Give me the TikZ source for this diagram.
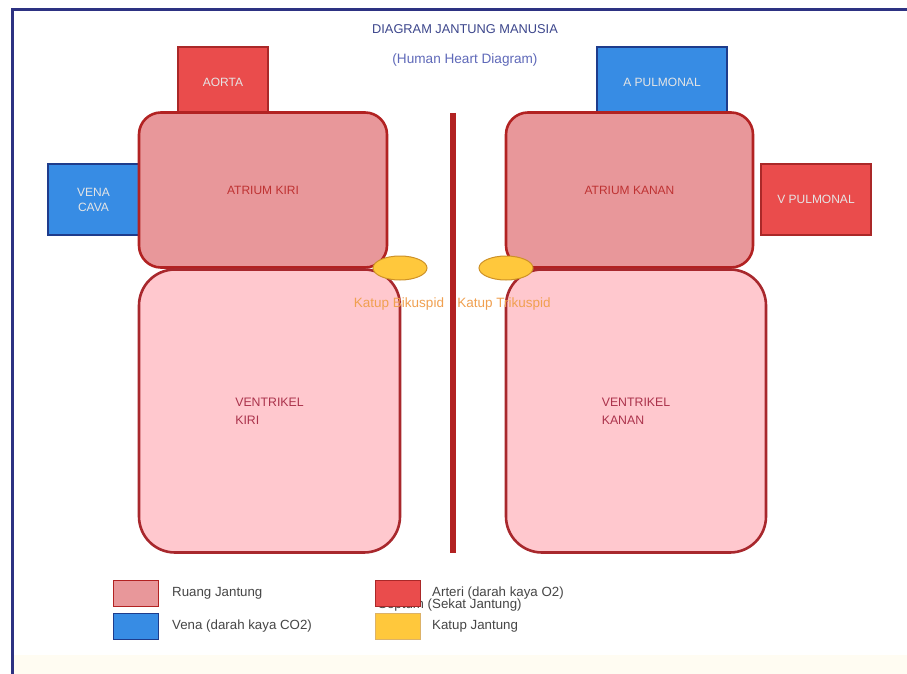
\documentclass[tikz,border=0pt]{standalone}
\usepackage{fontspec}
\setmainfont{Liberation Sans}
\usetikzlibrary{shapes.geometric}
\definecolor{framec}{RGB}{45,50,130}
\definecolor{atriumf}{RGB}{232,151,154}
\definecolor{heartb}{RGB}{178,34,34}
\definecolor{ventf}{RGB}{255,200,206}
\definecolor{ventb}{RGB}{168,40,45}
\definecolor{redf}{RGB}{234,76,76}
\definecolor{redb}{RGB}{170,40,40}
\definecolor{bluef}{RGB}{55,140,228}
\definecolor{blueb}{RGB}{30,60,140}
\definecolor{valvef}{RGB}{255,200,60}
\definecolor{valveb}{RGB}{205,145,40}
\definecolor{atrtext}{RGB}{190,50,50}
\definecolor{venttext}{RGB}{170,50,75}
\definecolor{katupt}{RGB}{240,160,80}
\definecolor{titlec}{RGB}{60,70,140}
\definecolor{subc}{RGB}{95,105,185}
\definecolor{legt}{RGB}{70,70,70}
\definecolor{cream}{RGB}{255,252,242}
\tikzset{
  f12/.style={font=\fontsize{12}{14}\selectfont},
  atrium/.style={f12, draw=heartb, line width=2.6pt, fill=atriumf, rounded corners=22pt, text=atrtext, inner sep=0pt},
  ventricle/.style={f12, draw=ventb, line width=2.6pt, fill=ventf, rounded corners=36pt, text=venttext, align=left, inner sep=0pt, font=\fontsize{12.3}{18}\selectfont},
  vessel/.style={f12, line width=1.3pt, inner sep=0pt, text=white!90!black, align=center},
  redvessel/.style={vessel, draw=redb, fill=redf},
  bluevessel/.style={vessel, draw=blueb, fill=bluef},
  valve/.style={ellipse, draw=valveb, line width=1pt, fill=valvef, minimum width=54pt, minimum height=24pt, inner sep=0pt},
  katup/.style={font=\fontsize{13.5}{15}\selectfont, text=katupt, inner sep=0pt},
  swatch/.style={minimum width=45pt, minimum height=26pt, inner sep=0pt, line width=0.8pt},
  legtext/.style={font=\fontsize{13.3}{15}\selectfont, text=legt, anchor=west, inner sep=0pt}
}
\begin{document}
\begin{tikzpicture}[x=1pt,y=-1pt]
\useasboundingbox (0,0) rectangle (907,674);
\fill[white] (0,0) rectangle (907,674);
\fill[cream] (13,655) rectangle (907,674);
\draw[framec, line width=3pt] (12,674) -- (12,10) -- (907,10);

% title
\node[font=\fontsize{12.8}{14}\selectfont, text=titlec] (title) at (465,29) {DIAGRAM JANTUNG MANUSIA};
\node[font=\fontsize{13.6}{15}\selectfont, text=subc] (subtitle) at (465,60) {(Human Heart Diagram)};

% vessels behind atria
\node[redvessel, minimum width=90pt, minimum height=70pt] (aorta) at (223,82) {AORTA};
\node[bluevessel, minimum width=130pt, minimum height=70pt] (apul) at (662,82) {A PULMONAL};
\node[bluevessel, minimum width=91pt, minimum height=71pt] (vcava) at (93.5,199.5) {VENA\\[1pt]CAVA};
\node[redvessel, minimum width=110pt, minimum height=71pt] (vpul) at (816,199.5) {V PULMONAL};

% septum
\draw[heartb, line width=6pt] (453,113) coordinate (s1) -- (453,553) coordinate (s2);

% atria
\node[atrium, minimum width=248pt, minimum height=155pt] (akiri) at (263,190) {ATRIUM KIRI};
\node[atrium, minimum width=247pt, minimum height=155pt] (akanan) at (629.5,190) {ATRIUM KANAN};

% ventricles
\node[ventricle, minimum width=261pt, minimum height=283pt] (vkiri) at (269.5,411) {VENTRIKEL\\KIRI};
\node[ventricle, minimum width=260pt, minimum height=283pt] (vkanan) at (636,411) {VENTRIKEL\\KANAN};

% valves
\node[valve] (bik) at (400,268) {};
\node[valve] (trik) at (506,268) {};
\node[katup] (bikl) at (399,304) {Katup Bikuspid};
\node[katup] (trikl) at (504,304) {Katup Trikuspid};

% legend
\node[swatch, draw=heartb, fill=atriumf] (sw1) at (135.5,593) {};
\node[legtext] (lt1) at (172,593) {Ruang Jantung};
\node[swatch, draw=blueb, fill=bluef] (sw2) at (135.5,626) {};
\node[legtext] (lt2) at (172,626) {Vena (darah kaya CO2)};
\node[legtext] (lt5) at (378,605) {Septum (Sekat Jantung)};
\node[swatch, draw=redb, fill=redf] (sw3) at (397.5,593) {};
\node[legtext] (lt3) at (432,593) {Arteri (darah kaya O2)};
\node[swatch, draw=valveb!70, fill=valvef] (sw4) at (397.5,626) {};
\node[legtext] (lt4) at (432,626) {Katup Jantung};
\end{tikzpicture}
\end{document}
